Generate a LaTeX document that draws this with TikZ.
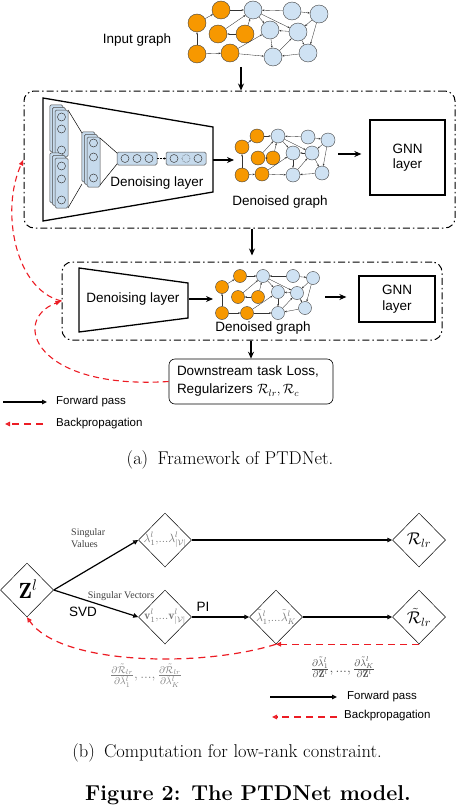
\RequirePackage{fix-cm}
\documentclass[tikz,border=0pt]{standalone}
\usepackage{fontspec}
\setsansfont{Liberation Sans}
\newfontfamily\timesfont{Liberation Serif}
\usetikzlibrary{arrows.meta,shapes.geometric,positioning}

\definecolor{nodeorange}{RGB}{247,152,0}
\definecolor{nodeblue}{RGB}{207,226,243}
\definecolor{nnblue}{RGB}{198,218,236}
\definecolor{backred}{RGB}{236,28,36}

\begin{document}
\begin{tikzpicture}[x=1pt,y=-1pt]
    \newcommand{\gsizein}{18pt} % node size, input graph
    \newcommand{\gsizeda}{14pt} % node size, first denoised graph
    \newcommand{\gsizedb}{13pt} % node size, second denoised graph
    \newcommand{\lyr}{2.6} % offset of the stacked layers

    % edges of a graph, #1 is the prefix of its node names
    \newcommand{\graphedges}[1]{%
        \foreach \ga/\gb in {o5/o2,o2/o1,o1/b1,b2/b1,b2/b3,o4/o3,o3/b1,o4/b1,o5/o6,o6/b4,
                             o6/b6,b1/b4,b1/b5,b5/b4,b4/b6,b6/b5,b5/b7,b3/b7,b3/b5,b7/b6}
            \draw[gedge] (#1\ga) -- (#1\gb);%
    }

    \tikzset{
        onode/.style={circle, draw=black!75, fill=nodeorange, line width=0.4pt, inner sep=0pt},
        bnode/.style={circle, draw=black!75, fill=nodeblue, line width=0.4pt, inner sep=0pt},
        gedge/.style={-{Stealth[length=2.2pt,width=1.8pt]}, line width=0.35pt, black!80},
        lbl/.style={font=\sffamily\fontsize{13.5}{15.5}\selectfont, inner sep=1pt},
        leg/.style={font=\sffamily\fontsize{11.5}{13}\selectfont, inner sep=0pt, anchor=west},
        fwd/.style={-{Stealth[length=7pt,width=6pt]}, line width=1.2pt},
        dashbox/.style={draw, line width=1pt, dash pattern=on 7pt off 3pt on 1.5pt off 3pt,
                        rounded corners=10pt, inner sep=0pt},
        gnnbox/.style={draw, line width=1.3pt, align=center, inner sep=0pt,
                       font=\sffamily\fontsize{13.5}{15.5}\selectfont},
        trap/.style={line width=1.3pt},
        nnbox/.style={draw=black!70, fill=nnblue, line width=0.5pt, rounded corners=1.5pt},
        nncirc/.style={draw=black!75, fill=nnblue, line width=0.5pt},
        lossbox/.style={draw, line width=0.6pt, rounded corners=6pt, align=left, text width=148pt,
                        inner xsep=8pt, minimum height=45pt,
                        font=\sffamily\fontsize{13.5}{18}\selectfont},
        back/.style={-{Latex[length=6pt,width=5pt]}, backred, line width=1.1pt,
                     dash pattern=on 6pt off 4pt},
        fwdleg/.style={-{Triangle[open,length=5pt,width=4.5pt]}, line width=1.2pt},
        backleg/.style={-{Triangle[open,length=5pt,width=4.5pt]}, backred, line width=1.2pt,
                        dash pattern=on 7pt off 5pt},
        dia/.style={diamond, draw, line width=0.5pt, minimum width=53pt, minimum height=54pt,
                    inner sep=0pt},
        dialbl/.style={font=\fontsize{12}{14}\selectfont, text=black!55, inner sep=0pt},
        slbl/.style={font=\timesfont\fontsize{10}{11.5}\selectfont, text=black!75, inner sep=0pt},
        grad/.style={font=\fontsize{14}{16}\selectfont, inner sep=0pt},
        captxt/.style={font=\fontsize{18.5}{21}\selectfont, inner sep=0pt}
    }

    \useasboundingbox (0,0) rectangle (458,808);

    % (a) framework

    % input graph
    \node[lbl] (inlabel) at (137,40) {Input graph};
    \foreach \n/\px/\py in {o1/221/10, o2/197/23, o3/218/34, o4/245/34, o5/197/54, o6/230/53}
        \node[onode, minimum size=\gsizein] (in\n) at (\px,\py) {};
    \foreach \n/\px/\py in {b1/253/10, b2/292/11, b3/319/14, b4/270/30, b5/298/32, b6/273/57, b7/308/53}
        \node[bnode, minimum size=\gsizein] (in\n) at (\px,\py) {};
    \graphedges{in}

    % first block
    \node[dashbox, minimum width=431pt, minimum height=137pt] (box1) at (239.5,159.5) {};
    \coordinate (inbot) at (241,67);
    \draw[fwd] (inbot) -- (inbot |- box1.north);

    \draw[trap] (43,98) -- (213,127) -- (213,192) -- (43,221) -- cycle;
    \coordinate (trap1r) at (213,160);

    % stacked layers
    \foreach \d in {2,1,0} {
        \filldraw[nnbox] (55-\d*\lyr,110-\d*\lyr) rectangle (68-\d*\lyr,157-\d*\lyr);
    }
    \foreach \d in {2,1,0} {
        \filldraw[nnbox] (55-\d*\lyr,158-\d*\lyr) rectangle (68-\d*\lyr,208-\d*\lyr);
    }
    \foreach \d in {2,1,0} {
        \filldraw[nnbox] (87-\d*\lyr,137-\d*\lyr) rectangle (100-\d*\lyr,187-\d*\lyr);
    }
    \filldraw[nnbox] (117,152) rectangle (157,165);
    \filldraw[nnbox] (166,152) rectangle (206,165);
    \foreach \cy in {117,129,150,166,179,200}
        \filldraw[nncirc] (61.5,\cy) circle (4);
    \foreach \cy in {143,157,178}
        \filldraw[nncirc] (93.5,\cy) circle (4);
    \foreach \cx in {125,137,149,174,198}
        \filldraw[nncirc] (\cx,158.5) circle (4);
    \draw[nncirc, densely dotted] (186,158.5) circle (4);
    \draw[-{Stealth[length=2pt,width=2pt]}, line width=0.4pt, densely dotted] (157,158.5) -- (166,158.5);
    \draw[line width=0.5pt] (68,110) -- (82,133);
    \draw[line width=0.5pt] (68,208) -- (82,184);
    \draw[line width=0.5pt] (100,138) -- (117,153);
    \draw[line width=0.5pt] (100,185) -- (117,164);
    \node[lbl] (dlabela) at (157,183) {Denoising layer};

    % first denoised graph
    \foreach \n/\px/\py in {o1/257/136, o2/242/147, o3/258/158, o4/273/158, o5/242/175, o6/262/174}
        \node[onode, minimum size=\gsizeda] (da\n) at (\px,\py) {};
    \foreach \n/\px/\py in {b1/278/136, b2/308/137, b3/328/140, b4/293/153, b5/312/153, b6/293/175, b7/322/173}
        \node[bnode, minimum size=\gsizeda] (da\n) at (\px,\py) {};
    \graphedges{da}
    \node[lbl] (glabela) at (280,202) {Denoised graph};
    \coordinate (gina) at (234,160);
    \draw[fwd] (trap1r) -- (gina);

    \node[gnnbox, minimum width=75pt, minimum height=75pt] (gnna) at (407.5,157.5) {GNN\\layer};
    \coordinate (gouta) at (338,154);
    \draw[fwd, shorten >=8pt] (gouta) -- (gouta -| gnna.west);

    % second block
    \node[dashbox, minimum width=380pt, minimum height=78pt] (box2) at (252,301) {};
    \draw[fwd, shorten >=6pt] (box1.south -| box2.north) -- (box2.north);

    \draw[trap] (79,268) -- (188,283) -- (188,318) -- (79,332) -- cycle;
    \coordinate (trap2r) at (189,299);
    \node[lbl] (dlabelb) at (133,299) {Denoising layer};

    % second denoised graph
    \foreach \n/\px/\py in {o1/240/276, o2/222/287, o3/238/297, o4/258/297, o5/222/313, o6/247/313}
        \node[onode, minimum size=\gsizedb] (db\n) at (\px,\py) {};
    \foreach \n/\px/\py in {b1/263/276, b2/293/276, b3/313/278, b4/278/292, b5/297/293, b6/278/313, b7/305/308}
        \node[bnode, minimum size=\gsizedb] (db\n) at (\px,\py) {};
    \graphedges{db}
    \node[lbl] (glabelb) at (263,328) {Denoised graph};
    \coordinate (ginb) at (213,299);
    \draw[fwd] (trap2r) -- (ginb);

    \node[gnnbox, minimum width=76pt, minimum height=46pt] (gnnb) at (397,299) {GNN\\layer};
    \coordinate (goutb) at (325,297);
    \draw[fwd, shorten >=12pt] (goutb) -- (goutb -| gnnb.west);

    % loss
    \node[lossbox] (loss) at (251,381.5) {Downstream task Loss,\\Regularizers $\mathcal{R}_{lr}, \mathcal{R}_c$};
    \draw[fwd] (box2.south -| loss.north) -- (loss.north);

    % backpropagation
    \draw[back] (loss.west) .. controls (35,390) and (10,320) .. (box2.west);
    \draw[back] (box2.west) .. controls (15,290) and (0,210) .. (box1.west);

    % legend
    \coordinate (fwdla) at (3,402);
    \coordinate (fwdlb) at (47,402);
    \draw[fwdleg] (fwdla) -- (fwdlb);
    \node[leg] (fwdtxta) at (56,402) {Forward pass};
    \coordinate (backla) at (43,424);
    \coordinate (backlb) at (5,424);
    \draw[backleg] (backla) -- (backlb);
    \node[leg] (backtxta) at (56,424) {Backpropagation};

    \node[captxt] (capa) at (230,460) {(a)\hspace{0.5em}Framework of PTDNet.};

    % (b) low-rank constraint

    % diamonds
    \node[dia] (zl) at (27,590) {};
    \node[font=\fontsize{22}{24}\selectfont, inner sep=0pt] (zltxt) at (28,589) {$\mathbf{Z}^l$};
    \node[dia] (lam) at (165,540) {};
    \node[dialbl] (lamtxt) at (lam) {$\lambda^l_1,\!...\lambda^l_{|\mathcal{V}|}$};
    \node[dia] (vec) at (165,617) {};
    \node[dialbl] (vectxt) at (vec) {$\mathbf{v}^l_1,\!...\mathbf{v}^l_{|\mathcal{V}|}$};
    \node[dia] (lamt) at (276,617) {};
    \node[dialbl] (lamttxt) at (lamt) {$\tilde{\lambda}^l_1,\!...\tilde{\lambda}^l_K$};
    \node[dia] (rlr) at (419,540) {};
    \node[font=\fontsize{17}{20}\selectfont, inner sep=0pt] (rlrtxt) at (rlr) {$\mathcal{R}_{lr}$};
    \node[dia] (rlrt) at (419,617) {};
    \node[font=\fontsize{17}{20}\selectfont, inner sep=0pt] (rlrttxt) at (rlrt) {$\tilde{\mathcal{R}}_{lr}$};

    % forward
    \draw[fwdleg] (zl.east) -- (lam.west);
    \draw[fwdleg] (zl.east) -- (vec.west);
    \draw[fwdleg] (lam.east) -- (rlr.west);
    \draw[fwdleg] (vec.east) -- (lamt.west);
    \draw[fwdleg] (lamt.east) -- (rlrt.west);

    \node[slbl, align=left, anchor=west] (svlbl) at (71,538) {Singular\\Values};
    \node[slbl] (sveclbl) at (121,596) {Singular Vectors};
    \node[lbl] (svdlbl) at (83,612) {SVD};
    \node[lbl] (pilbl) at (203,607) {PI};

    % backward
    \draw[backleg] (rlrt.south) -- (lamt.south);
    \draw[backleg] (lamt.south) .. controls (200,668) and (60,665) .. (zl.south);

    \node[grad, text=black!50] (gradr) at (146,676)
        {$\frac{\partial\tilde{\mathcal{R}}_{lr}}{\partial\tilde{\lambda}^l_1},...,\frac{\partial\tilde{\mathcal{R}}_{lr}}{\partial\tilde{\lambda}^l_K}$};
    \node[grad, text=black!70] (gradz) at (343,667)
        {$\frac{\partial\tilde{\lambda}^l_1}{\partial\mathbf{Z}^l},...,\frac{\partial\tilde{\lambda}^l_K}{\partial\mathbf{Z}^l}$};

    % legend
    \coordinate (fwdlc) at (270,697);
    \coordinate (fwdld) at (337,697);
    \draw[fwdleg] (fwdlc) -- (fwdld);
    \node[leg] (fwdtxtb) at (347,697) {Forward pass};
    \coordinate (backlc) at (337,717);
    \coordinate (backld) at (272,717);
    \draw[backleg] (backlc) -- (backld);
    \node[leg] (backtxtb) at (344,716) {Backpropagation};

    \node[captxt] (capb) at (227,753) {(b)\hspace{0.5em}Computation for low-rank constraint.};
    \node[font=\bfseries\fontsize{21.5}{24}\selectfont, inner sep=0pt] (figcap) at (248,795) {Figure 2: The PTDNet model.};
\end{tikzpicture}
\end{document}
